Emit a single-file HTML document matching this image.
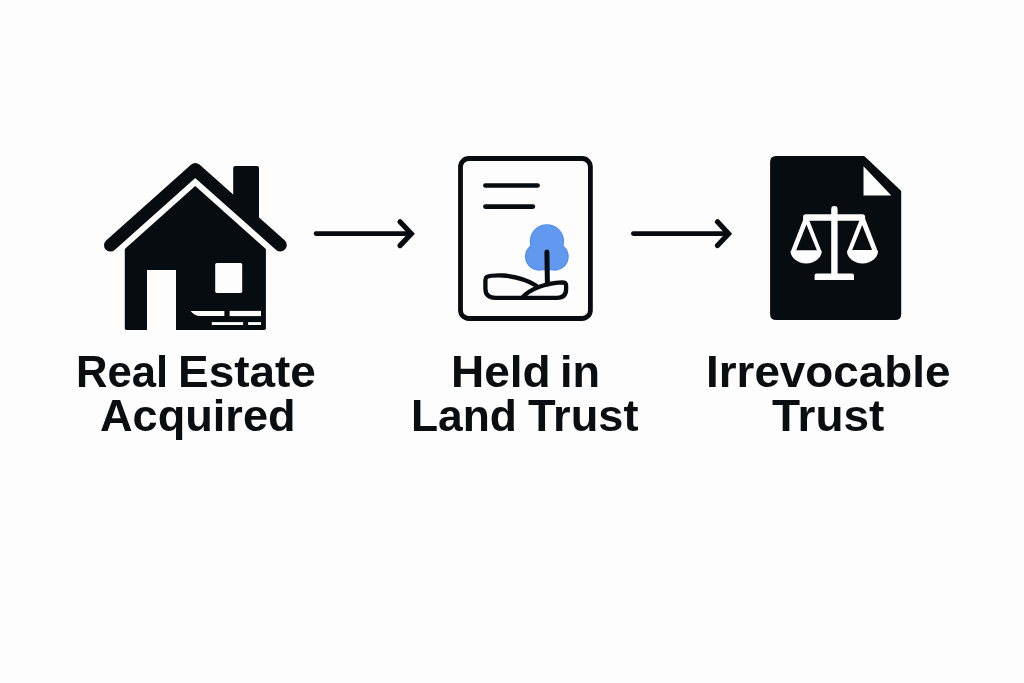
<!DOCTYPE html>
<html><head><meta charset="utf-8">
<style>
html,body{margin:0;padding:0;}
body{width:1024px;height:683px;background:#fdfdfd;position:relative;overflow:hidden;font-family:"Liberation Sans",sans-serif;}
svg{position:absolute;left:0;top:0;}
.t{position:absolute;font-weight:bold;color:#0a0e11;font-size:44px;line-height:44px;white-space:nowrap;transform-origin:0 0;-webkit-font-smoothing:antialiased;}
</style></head><body>
<svg width="1024" height="683" viewBox="0 0 1024 683">
 <!-- House -->
 <g fill="#070c10">
  <path d="M233.2 168 Q233.2 166.1 235.2 166.1 L257 166.1 Q259 166.1 259 168 L259 229.5 L233.2 206.4 Z"/>
  <path d="M124.8 249 L195.2 186.1 L265.9 249 L265.9 328.3 Q265.9 330 264.2 330 L126.5 330 Q124.8 330 124.8 328.3 Z"/>
 </g>
 <path d="M110.4 245.2 L195.2 169.4 L280.4 245.1" fill="none" stroke="#070c10" stroke-width="12.8" stroke-linecap="round" stroke-linejoin="round"/>
 <g fill="#fdfdfd">
  <rect x="147" y="270" width="29" height="62" />
  <rect x="215.2" y="263" width="27" height="29.9" rx="1.6"/>
  <path d="M190.7 310.9 L224.4 310.9 L224.4 316.1 L200 316.1 Q194 315.5 190.7 310.9 Z"/>
  <rect x="229.6" y="310.9" width="31.4" height="5.2"/>
  <rect x="211.8" y="322.1" width="31.3" height="2.9"/>
  <rect x="248.1" y="322.1" width="12.9" height="2.9"/>
 </g>

 <!-- Arrow 1 -->
 <g fill="none" stroke="#070c10" stroke-linecap="round" stroke-linejoin="miter">
  <path d="M316 233.6 L410 233.6" stroke-width="4.6"/>
  <path d="M400 221.8 L411.3 233.7 L400 245.6" stroke-width="5.2"/>
 </g>
 <!-- Arrow 2 -->
 <g fill="none" stroke="#070c10" stroke-linecap="round" stroke-linejoin="miter">
  <path d="M633.3 233.6 L726 233.6" stroke-width="4.6"/>
  <path d="M717.5 221.8 L728.6 233.7 L717.5 245.6" stroke-width="5.2"/>
 </g>

 <!-- Land trust doc -->
 <rect x="460.5" y="158.5" width="129.9" height="160" rx="8.3" fill="none" stroke="#070c10" stroke-width="4.8"/>
 <g stroke="#070c10" stroke-width="4.6" stroke-linecap="round">
  <line x1="485.4" y1="185.55" x2="537.6" y2="185.55"/>
  <line x1="485.4" y1="206.6" x2="532.9" y2="206.6"/>
 </g>
 <!-- tree -->
 <g fill="#4686ee">
  <circle cx="546.9" cy="241.3" r="17.1"/>
  <circle cx="539.1" cy="256.6" r="14.1"/>
  <circle cx="554.6" cy="256.6" r="14.1"/>
  <ellipse cx="546.9" cy="260" rx="15" ry="10.7"/>
 </g>
 <g fill="#6299f0">
  <circle cx="546.9" cy="241.3" r="16.2"/>
  <circle cx="539.1" cy="256.6" r="13.2"/>
  <circle cx="554.6" cy="256.6" r="13.2"/>
  <ellipse cx="546.9" cy="260" rx="15" ry="9.8"/>
 </g>
 <line x1="546.9" y1="252" x2="547.4" y2="284" stroke="#070c10" stroke-width="5" stroke-linecap="round"/>
 <path d="M537 286 C528 280.5 516 276.5 503 275.5 C495 275.3 489 275.8 487 276.8 Q485.4 277.8 485.4 281 L485.4 288.5 Q485.4 297.8 495.5 297.8 L557 297.8 Q566.1 297.8 566.1 289 L566.1 285.5 Q566.1 282.3 562 282.3 C545 283 530 289 522 297.8" fill="none" stroke="#070c10" stroke-width="4.3" stroke-linejoin="round"/>

 <!-- Irrevocable doc -->
 <path d="M776 156.1 L863.5 156.1 Q864.5 156.1 865.3 156.9 L900.5 190.3 Q901.2 191 901.2 192 L901.2 314 Q901.2 320 895.2 320 L776.1 320 Q770.1 320 770.1 314 L770.1 162.1 Q770.1 156.1 776 156.1 Z" fill="#070c10"/>
 <path d="M863.5 166.3 L863.5 195.6 L891.3 195.6 Z" fill="#fdfdfd"/>
 <g fill="#fdfdfd">
  <path d="M831.2 276 L831.2 209.2 A3.2 3.2 0 0 1 837.6 209.2 L837.6 276 Z"/>
  <rect x="803.1" y="214.2" width="62" height="6.6" rx="2.6"/>
  <path d="M814.6 279.9 L814.6 275.5 Q814.6 273.5 816.6 273.5 L852 273.5 Q854 273.5 854 275.5 L854 279.9 Z"/>
 </g>
 <g fill="#fdfdfd">
  <path d="M804.3 217 L807.9 217 L821.8 252.3 L790.5 252.3 Z"/>
  <path d="M860.8 217 L864.4 217 L878.1 252.3 L846.9 252.3 Z"/>
  <path d="M790.6 251 L821.7 251 A15.55 12.5 0 0 1 790.6 251 Z"/>
  <path d="M847 251 L878 251 A15.5 12.5 0 0 1 847 251 Z"/>
 </g>
 <g fill="#070c10">
  <path d="M806.4 224.6 L816.9 250.3 L796.2 250.3 Z"/>
  <path d="M862.2 224.9 L872.1 250.1 L852.2 250.1 Z"/>
 </g>
</svg>
<div class="t" style="left:75.93px;top:350px;transform:translateZ(0) scaleX(0.9908)">Real</div>
<div class="t" style="left:177.97px;top:350px;transform:translateZ(0) scaleX(1.0441)">Estate</div>
<div class="t" style="left:100.27px;top:393.7px;transform:translateZ(0) scaleX(1.0257)">Acquired</div>
<div class="t" style="left:450.86px;top:350px;transform:translateZ(0) scaleX(1.0457)">Held</div>
<div class="t" style="left:559.63px;top:350px;transform:translateZ(0) scaleX(1.0242)">in</div>
<div class="t" style="left:411.03px;top:393.7px;transform:translateZ(0) scaleX(1.0076)">Land</div>
<div class="t" style="left:528.17px;top:393.7px;transform:translateZ(0) scaleX(1.0274)">Trust</div>
<div class="t" style="left:706.38px;top:350px;transform:translateZ(0) scaleX(1.0413)">Irrevocable</div>
<div class="t" style="left:772.26px;top:393.7px;transform:translateZ(0) scaleX(1.0443)">Trust</div>
</body></html>
